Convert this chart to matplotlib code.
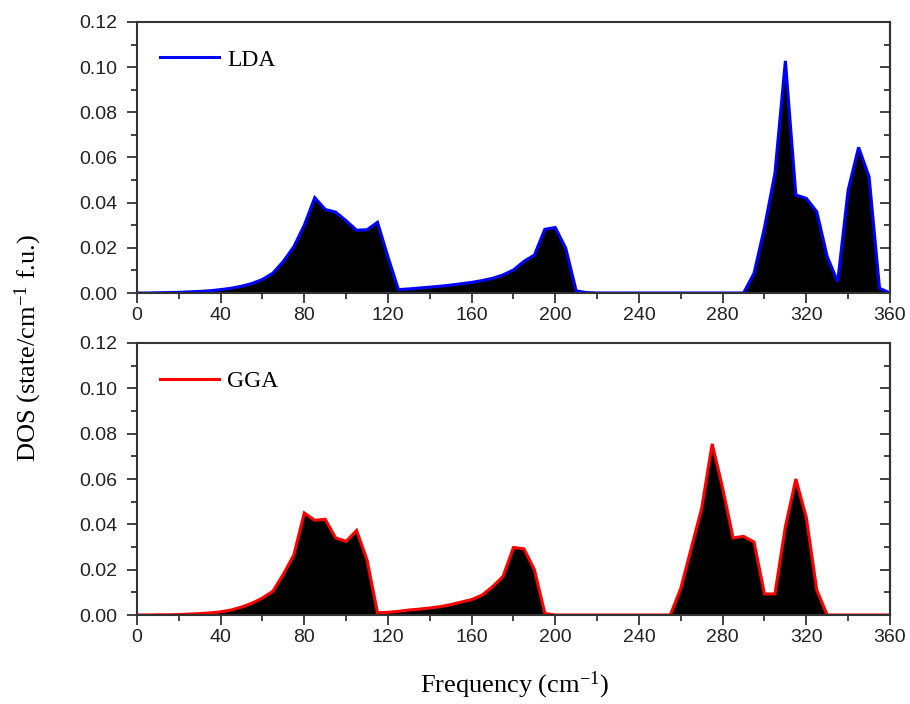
import numpy as np
import matplotlib
matplotlib.use('Agg')
import matplotlib.pyplot as plt
from matplotlib.ticker import MultipleLocator

plt.rcParams['mathtext.fontset'] = 'custom'
plt.rcParams['mathtext.rm'] = 'Liberation Serif'
plt.rcParams['mathtext.it'] = 'Liberation Serif:italic'

# Frecuencias (cm^-1), paso de 5
freq = list(range(0, 365, 5))

# DOS LDA
dos_lda = [0, 0, 0.0001, 0.0002, 0.0003, 0.0005, 0.0007, 0.0010, 0.0015, 0.0021,
           0.0030, 0.0042, 0.0060, 0.0088, 0.0140, 0.0205, 0.0300, 0.0422, 0.0370, 0.0358,
           0.0320, 0.0278, 0.0280, 0.0313, 0.0160, 0.0015, 0.0018, 0.0022, 0.0026, 0.0030,
           0.0035, 0.0041, 0.0047, 0.0055, 0.0065, 0.0080, 0.0102, 0.0140, 0.0168, 0.0282,
           0.0290, 0.0198, 0.0009, 0.0002, 0, 0, 0, 0, 0, 0,
           0, 0, 0, 0, 0, 0, 0, 0, 0, 0.0087,
           0.0290, 0.0530, 0.1028, 0.0434, 0.0419, 0.0360, 0.0161, 0.0050, 0.0456, 0.0645,
           0.0515, 0.0021, 0]

# DOS GGA
dos_gga = [0, 0, 0.0001, 0.0001, 0.0002, 0.0004, 0.0006, 0.0009, 0.0014, 0.0022,
           0.0035, 0.0052, 0.0075, 0.0105, 0.0180, 0.0265, 0.0450, 0.0418, 0.0422, 0.0340,
           0.0325, 0.0373, 0.0243, 0.0010, 0.0012, 0.0016, 0.0022, 0.0026, 0.0031, 0.0037,
           0.0046, 0.0057, 0.0068, 0.0088, 0.0125, 0.0170, 0.0298, 0.0292, 0.0200, 0.0007,
           0, 0, 0, 0, 0, 0, 0, 0, 0, 0,
           0, 0, 0.0118, 0.0295, 0.0472, 0.0755, 0.0560, 0.0340, 0.0347, 0.0322,
           0.0093, 0.0093, 0.0390, 0.0600, 0.0430, 0.0110, 0, 0, 0, 0,
           0, 0, 0]

x_ticks = [0, 40, 80, 120, 160, 200, 240, 280, 320, 360]
y_ticks = [0.00, 0.02, 0.04, 0.06, 0.08, 0.10, 0.12]

fig = plt.figure(figsize=(9.1, 7.04), dpi=100)
ax1 = fig.add_axes([0.1505, 0.5838, 0.8275, 0.385])
ax2 = fig.add_axes([0.1505, 0.1264, 0.8275, 0.3864])

spine_col = '#333333'


def panel(ax, y, color, label):
    ax.fill_between(freq, y, 0, color='black', lw=0)
    ax.plot(freq, y, color=color, lw=2.2, label=label, solid_joinstyle='miter')
    ax.set_xlim(0, 360)
    ax.set_ylim(0, 0.12)
    ax.set_xticks(x_ticks)
    ax.set_yticks(y_ticks)
    ax.xaxis.set_minor_locator(MultipleLocator(20))
    ax.yaxis.set_minor_locator(MultipleLocator(0.01))
    ax.set_yticklabels([f'{v:.2f}' for v in y_ticks])
    for s in ax.spines.values():
        s.set_linewidth(1.5)
        s.set_color(spine_col)
    ax.tick_params(axis='both', which='both', colors=spine_col, labelcolor='#222222',
                   width=1.3, labelsize=14)
    ax.tick_params(axis='both', which='major', length=7)
    ax.tick_params(axis='both', which='minor', length=4)
    ax.tick_params(axis='x', which='both', direction='out', top=False, pad=3)
    ax.tick_params(axis='y', which='both', direction='out', right=False, pad=7)
    for lab in ax.get_xticklabels() + ax.get_yticklabels():
        lab.set_family('Liberation Sans')
    # ticks interiores a la derecha
    ax2r = ax.secondary_yaxis('right')
    ax2r.set_yticks(y_ticks)
    ax2r.yaxis.set_minor_locator(MultipleLocator(0.01))
    ax2r.tick_params(axis='y', which='both', direction='in', labelright=False,
                     colors=spine_col, width=1.3)
    ax2r.tick_params(axis='y', which='major', length=7)
    ax2r.tick_params(axis='y', which='minor', length=4)
    ax2r.spines['right'].set_linewidth(1.5)
    ax2r.spines['right'].set_color(spine_col)
    leg = ax.legend(loc='center left', bbox_to_anchor=(0.0305, 0.86), frameon=False,
                    borderpad=0, borderaxespad=0, handlelength=2.5, handletextpad=0.35,
                    prop={'family': 'Liberation Serif', 'size': 17})
    leg.get_lines()[0].set_linewidth(2.2)


panel(ax1, dos_lda, '#0000ff', 'LDA')
panel(ax2, dos_gga, '#ff0000', 'GGA')

fig.text(0.031, 0.505, 'DOS (state/cm$^{-1}$ f.u.)', rotation=90, ha='center', va='center',
         family='Liberation Serif', fontsize=19)
fig.text(0.565, 0.027, 'Frequency (cm$^{-1}$)', ha='center', va='center',
         family='Liberation Serif', fontsize=19)

plt.savefig('out.png', dpi=100)
